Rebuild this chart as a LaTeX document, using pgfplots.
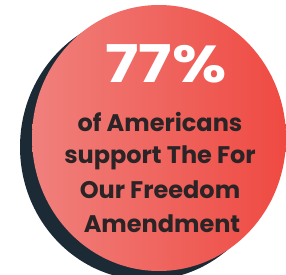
\documentclass[border=0pt]{standalone}
\usepackage{fontspec}
\setmainfont{Poppins}
\usepackage{pgfplots}
\pgfplotsset{compat=1.18}
\definecolor{navy}{HTML}{1C2A35}
\definecolor{redL}{HTML}{F0807C}
\definecolor{redR}{HTML}{EF4A42}
\definecolor{txt}{HTML}{2A2426}
\begin{document}
\begin{tikzpicture}
\begin{axis}[
  width=286pt, height=275pt, scale only axis,
  xmin=0, xmax=286, ymin=0, ymax=275, y dir=reverse,
  axis lines=none, clip=true,
]
\addplot[draw=none, mark=none] coordinates {(0,0) (286,275)};
\fill[navy] (axis cs:147,147) ellipse [x radius=127, y radius=133];
\shade[left color=redL, right color=redR] (axis cs:159,138) ellipse [x radius=127, y radius=133];
\node[anchor=base, text=white, font=\bfseries\fontsize{52}{52}\selectfont, inner sep=0pt, xscale=1.2] at (axis cs:166,83) {77\%};
\node[anchor=base, text=txt, font=\bfseries\fontsize{24}{24}\selectfont, inner sep=0pt] at (axis cs:160,132) {of Americans};
\node[anchor=base, text=txt, font=\bfseries\fontsize{24}{24}\selectfont, inner sep=0pt] at (axis cs:160,164) {support The For};
\node[anchor=base, text=txt, font=\bfseries\fontsize{24}{24}\selectfont, inner sep=0pt] at (axis cs:160,198) {Our Freedom};
\node[anchor=base, text=txt, font=\bfseries\fontsize{24}{24}\selectfont, inner sep=0pt] at (axis cs:162,232) {Amendment};
\end{axis}
\end{tikzpicture}
\end{document}
